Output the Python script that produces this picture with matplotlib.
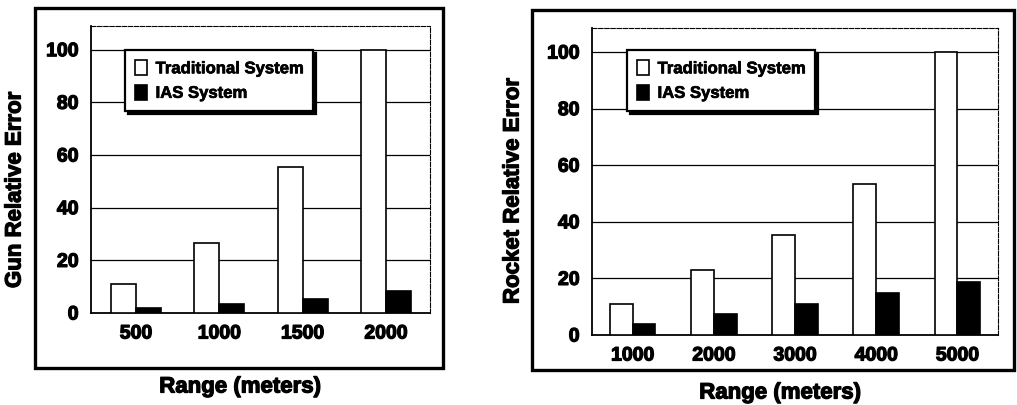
import matplotlib
matplotlib.use("Agg")
import matplotlib.pyplot as plt
from matplotlib.patches import Rectangle, Patch
import matplotlib.patheffects as pe
import numpy as np

plt.rcParams['font.family'] = ['Liberation Sans', 'DejaVu Sans']
plt.rcParams['font.weight'] = 'bold'

gun_ranges = ["500", "1000", "1500", "2000"]
gun_traditional = [11, 26.5, 55.5, 100]
gun_ias = [1.8, 3.4, 5.2, 8.4]

rocket_ranges = ["1000", "2000", "3000", "4000", "5000"]
rocket_traditional = [11, 23, 35.3, 53.5, 100]
rocket_ias = [3.9, 7.4, 11, 14.8, 18.7]

yticks = [0, 20, 40, 60, 80, 100]
series_names = ["Traditional System", "IAS System"]

W, H = 1017, 405
fig = plt.figure(figsize=(W / 100, H / 100), dpi=100)
heavy = [pe.withStroke(linewidth=0.9, foreground='black')]


def px_axes(l, t, r, b):
    return fig.add_axes([l / W, (H - b) / H, (r - l) / W, (b - t) / H])


def frame(l, t, r, b):
    fig.patches.append(Rectangle((l / W, (H - b) / H), (r - l) / W, (b - t) / H,
                                 transform=fig.transFigure, fill=False,
                                 edgecolor='black', linewidth=2.4, zorder=0))


def panel(ax, cats, trad, ias, width, xlim, ylim_top, leg_xy):
    x = np.arange(len(cats))
    for yv in yticks[1:]:
        ax.axhline(yv, color='black', linewidth=0.9, zorder=1)
    ax.bar(x - width / 2, trad, width, color='white', edgecolor='black',
           linewidth=1.2, zorder=3)
    ax.bar(x + width / 2, ias, width, color='black', edgecolor='black',
           linewidth=1.2, zorder=3)
    ax.set_xlim(*xlim)
    ax.set_ylim(0, ylim_top)
    ax.set_yticks(yticks)
    ax.set_yticklabels([str(v) for v in yticks], fontsize=14, fontweight='bold')
    ax.set_xticks(x)
    ax.set_xticklabels(cats, fontsize=14, fontweight='bold')
    for t in ax.get_xticklabels() + ax.get_yticklabels():
        t.set_path_effects(heavy)
    ax.tick_params(axis='both', length=0, pad=9)
    ax.spines['left'].set_linewidth(1.3)
    ax.spines['bottom'].set_linewidth(1.3)
    for s in ['top', 'right']:
        ax.spines[s].set_linewidth(0.8)
        ax.spines[s].set_linestyle((0, (4, 1.5)))
    handles = [Patch(facecolor='white', edgecolor='black', linewidth=1.2),
               Patch(facecolor='black', edgecolor='black', linewidth=1.2)]
    leg = ax.legend(handles, series_names, loc='upper left', bbox_to_anchor=leg_xy,
                    fancybox=False, shadow={'color': 'black', 'alpha': 1},
                    framealpha=1, edgecolor='black', handlelength=0.75,
                    handleheight=1.0, handletextpad=0.5, borderpad=0.6,
                    labelspacing=0.5, prop={'size': 12, 'weight': 'bold'})
    leg.get_frame().set_linewidth(1.6)
    for t in leg.get_texts():
        t.set_path_effects([pe.withStroke(linewidth=0.5, foreground='black')])
    leg.set_zorder(5)


# left panel
frame(35, 8, 443, 368)
ax1 = px_axes(91, 26, 430, 313)
panel(ax1, gun_ranges, gun_traditional, gun_ias, 0.3, (-0.54, 3.53), 109,
      (0.075, 0.945))
fig.text(15 / W, (H - 190) / H, "Gun Relative Error", rotation=90,
         ha='center', va='center', fontsize=16, fontweight='bold',
         path_effects=heavy)
fig.text(240 / W, (H - 387) / H, "Range (meters)", ha='center', va='center',
         fontsize=16, fontweight='bold', path_effects=heavy)

# right panel
frame(532, 10, 1014, 370)
ax2 = px_axes(592, 28, 998, 335)
panel(ax2, rocket_ranges, rocket_traditional, rocket_ias, 0.28, (-0.5, 4.5), 108.5,
      (0.065, 0.955))
fig.text(513 / W, (H - 191) / H, "Rocket Relative Error", rotation=90,
         ha='center', va='center', fontsize=16, fontweight='bold',
         path_effects=heavy)
fig.text(780 / W, (H - 393) / H, "Range (meters)", ha='center', va='center',
         fontsize=16, fontweight='bold', path_effects=heavy)

fig.savefig("out.png", dpi=100)
